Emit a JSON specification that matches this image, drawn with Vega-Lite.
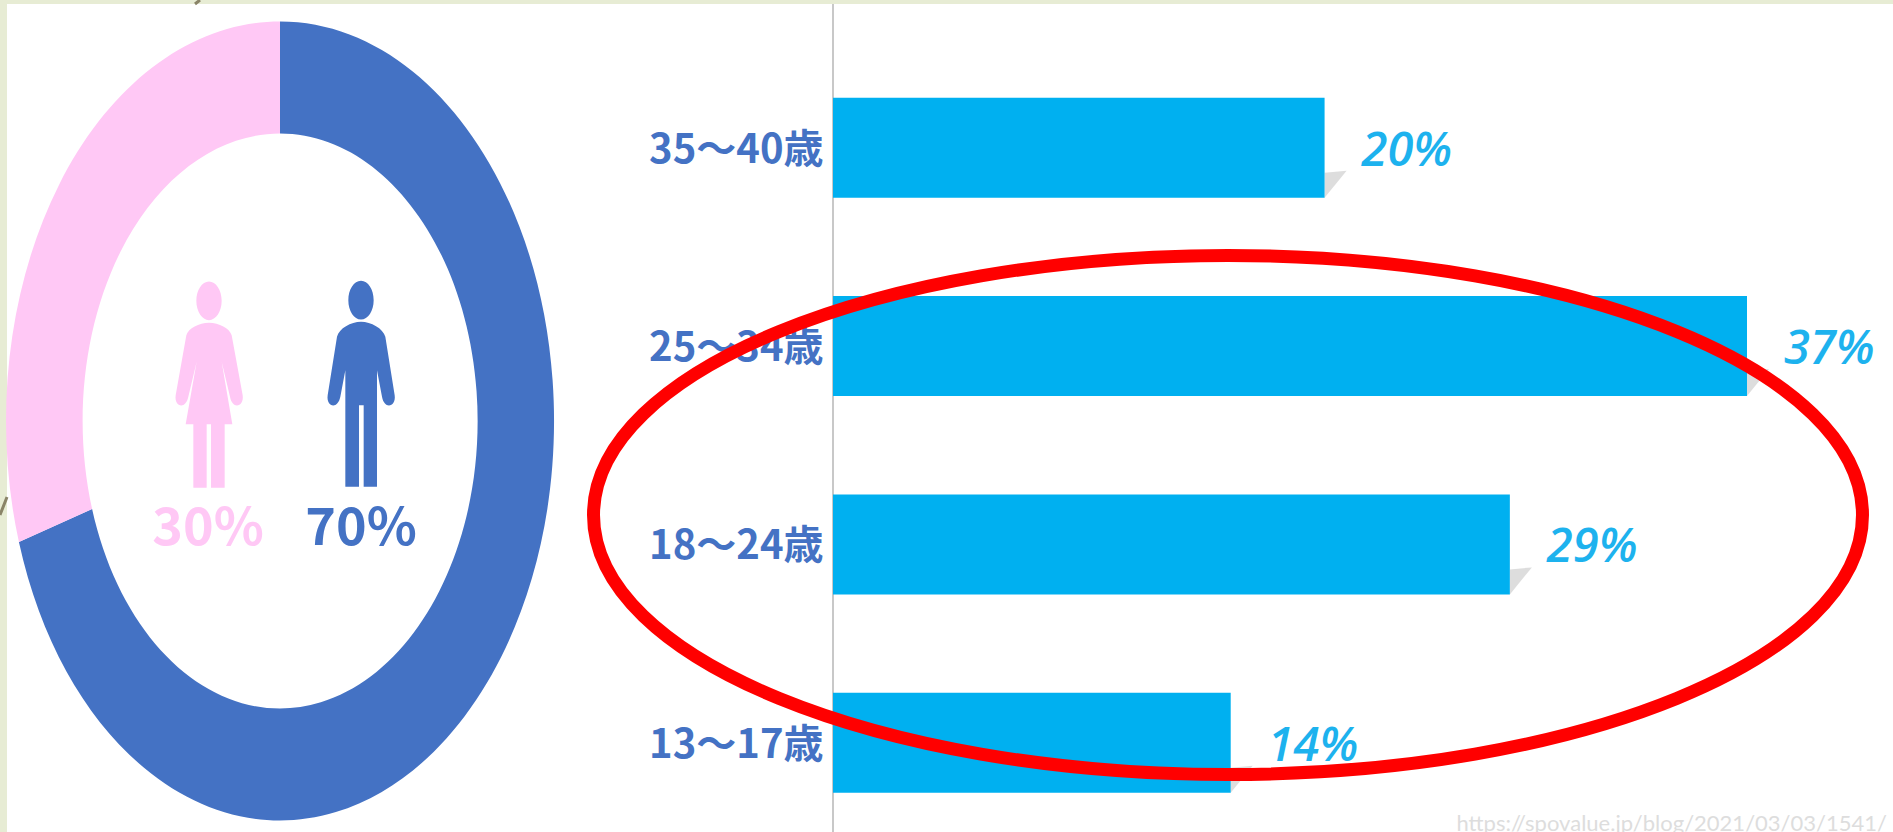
{
"$schema":"https://vega.github.io/schema/vega-lite/v6.json",
"width":1886,"height":828,
"autosize":{"type":"none"},
"padding":{"left":7,"top":4,"right":0,"bottom":0},
"background":"#E7ECD4",
"view":{"fill":"#FFFFFF","stroke":null},
"datasets":{
 "sex":[{"sex":"男性","share":70,"label":"70%"},{"sex":"女性","share":30,"label":"30%"}],
 "age":[
  {"age":"35～40歳","length":19.9,"label":"20%"},
  {"age":"25～34歳","length":37,"label":"37%"},
  {"age":"18～24歳","length":27.4,"label":"29%"},
  {"age":"13～17歳","length":16.1,"label":"14%"}],
 "note":[{"note":"highlight","source":"https://spovalue.jp/blog/2021/03/03/1541/"}]
},
"layer":[
 {"data":{"name":"note"},
  "mark":{"type":"point","filled":false,"size":4,"opacity":1,"color":"#8A8468","strokeWidth":3,"clip":false,
    "shape":"M-7,511 L0,493 M188,0 L193,-4"},
  "encoding":{
   "x":{"datum":0,"type":"quantitative","scale":{"domain":[0,1],"range":[0,100]},"axis":null},
   "y":{"datum":0,"type":"quantitative","scale":{"domain":[0,1],"range":[0,100]},"axis":null}}},
 {"data":{"name":"sex"},
  "mark":{"type":"point","filled":true,"size":4,"opacity":1},
  "encoding":{
   "x":{"datum":0.5,"type":"quantitative","scale":{"domain":[0,1],"range":[0,546]},"axis":null},
   "y":{"datum":0.5,"type":"quantitative","scale":{"domain":[0,1],"range":[0,834]},"axis":null},
   "shape":{"field":"sex","type":"nominal","legend":null,"scale":{"domain":["男性","女性"],"range":[
     "M0,-399.5 A274,399.5 0 1 1 -261.1,121 L-187.9,88 A197.5,287.5 0 1 0 0,-287.5 Z",
     "M-261.1,121 A274,399.5 0 0 1 0,-399.5 L0,-287.5 A197.5,287.5 0 0 0 -187.9,88 Z"]}},
   "color":{"field":"sex","type":"nominal","legend":null,"scale":{"domain":["男性","女性"],"range":["#4472C4","#FFC8F5"]}}
  }},
 {"data":{"name":"sex"},
  "mark":{"type":"point","filled":true,"size":0.4444,"opacity":1},
  "encoding":{
   "x":{"field":"sex","type":"nominal","axis":null,"scale":{"type":"point","padding":0,"domain":["女性","男性"],"range":[202,354]}},
   "y":{"datum":0.457,"type":"quantitative","scale":{"domain":[0,1],"range":[0,834]},"axis":null},
   "shape":{"field":"sex","type":"nominal","legend":null,"scale":{"domain":["女性","男性"],"range":[
     "M-38,-253 A38,58 0 1 1 38,-253 A38,58 0 1 1 -38,-253 Z M0,-187 C-30,-187 -62,-170 -68,-150 L-100,30 C-105,65 -70,75 -62,35 L-37,-70 L-70,117 L-47,117 L-47,308 L-7,308 L-7,117 L6,117 L6,308 L47,308 L47,117 L70,117 L38,-70 L63,35 C70,75 106,65 101,30 L68,-150 C62,-170 30,-187 0,-187 Z",
     "M-38,-255 A38,58 0 1 1 38,-255 A38,58 0 1 1 -38,-255 Z M0,-190 C-30,-190 -66,-170 -72,-145 L-100,30 C-105,65 -70,75 -62,35 L-47,-45 L-47,305 L-6,305 L-6,60 L8,60 L8,305 L48,305 L48,-45 L63,35 C70,75 106,65 101,30 L73,-145 C66,-170 30,-190 0,-190 Z"]}},
   "color":{"field":"sex","type":"nominal","legend":null,"scale":{"domain":["男性","女性"],"range":["#4472C4","#FFC8F5"]}}
  }},
 {"data":{"name":"sex"},
  "mark":{"type":"text","font":"Noto Sans CJK JP","fontWeight":"bold","fontSize":52,"align":"center","baseline":"middle"},
  "encoding":{
   "x":{"field":"sex","type":"nominal","axis":null,"scale":{"type":"point","padding":0,"domain":["女性","男性"],"range":[201,354]}},
   "y":{"datum":0.63,"type":"quantitative","scale":{"domain":[0,1],"range":[0,834]},"axis":null},
   "text":{"field":"label"},
   "color":{"field":"sex","type":"nominal","legend":null,"scale":{"domain":["男性","女性"],"range":["#4472C4","#FFC8F5"]}}
  }},
 {"data":{"name":"note"},
  "mark":{"type":"rule","color":"#C8C8C8","strokeWidth":2},
  "encoding":{"x":{"datum":0,"type":"quantitative","scale":{"domain":[0,37],"range":[826,1740]},"axis":null}}},
 {"data":{"name":"age"},
  "encoding":{
   "x":{"field":"length","type":"quantitative","scale":{"domain":[0,37],"range":[826,1740]},"axis":null},
   "y":{"field":"age","type":"nominal","sort":null,
     "scale":{"domain":["35～40歳","25～34歳","18～24歳","13～17歳"],"range":[44.5,837.9],"paddingInner":0.496,"paddingOuter":0.248},
     "axis":{"orient":"left","offset":-826,"title":null,"domain":false,"ticks":false,"labelPadding":10,"labelOffset":3,
       "labelFont":"Noto Sans CJK JP","labelFontSize":40,"labelFontWeight":"bold","labelColor":"#4472C4","labelLimit":400,"grid":false}}
  },
  "layer":[
   {"mark":{"type":"point","filled":true,"size":4,"opacity":0.7,"color":"#CFCFCF","shape":"M0,50 L0,25 L22,23 Z"}},
   {"mark":{"type":"bar","color":"#00B0F0","size":100}},
   {"mark":{"type":"text","align":"left","baseline":"middle","dx":37,"dy":4,"font":"Open Sans","fontStyle":"italic","fontWeight":600,"fontSize":47,"color":"#1DB2EE"},
    "encoding":{"text":{"field":"label"}}}
  ]},
 {"data":{"name":"note"},
  "mark":{"type":"text","align":"right","baseline":"top","font":"Lato","fontSize":22,"color":"#DDDDDD"},
  "encoding":{
   "x":{"datum":1,"type":"quantitative","scale":{"domain":[0,1],"range":[0,1880]},"axis":null},
   "y":{"datum":1,"type":"quantitative","scale":{"domain":[0,1],"range":[0,810]},"axis":null},
   "text":{"field":"source"}}},
 {"data":{"name":"note"},
  "mark":{"type":"point","filled":false,"size":4,"opacity":1,"color":"#FF0000","strokeWidth":13,
    "shape":"M-634.5,0 A634.5,259.5 0 1 1 634.5,0 A634.5,259.5 0 1 1 -634.5,0 Z"},
  "encoding":{
   "x":{"datum":0.5,"type":"quantitative","scale":{"domain":[0,1],"range":[0,2442]},"axis":null},
   "y":{"datum":0.5,"type":"quantitative","scale":{"domain":[0,1],"range":[0,1022]},"axis":null}}}
],
"resolve":{"scale":{"x":"independent","y":"independent","color":"independent","shape":"independent"}}
}
